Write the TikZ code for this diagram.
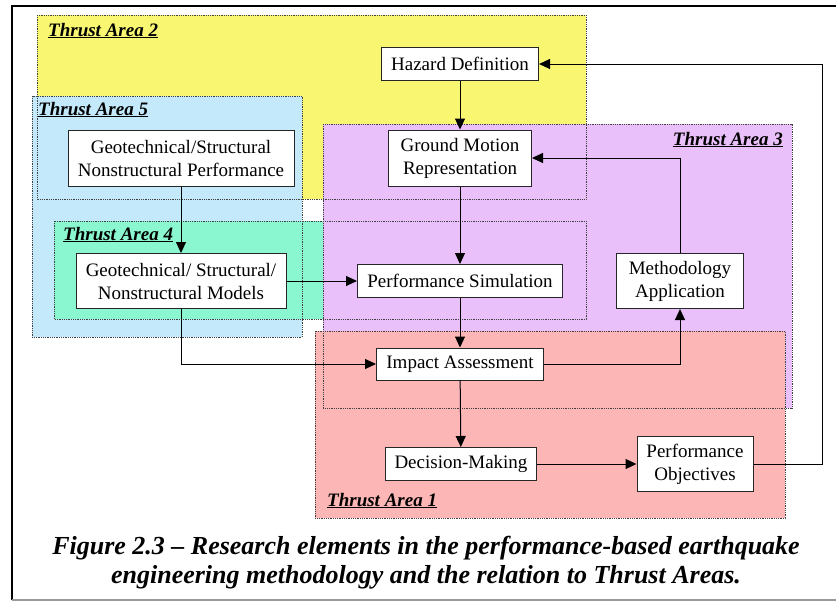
\documentclass[tikz,border=0pt]{standalone}
\usepackage{fontspec}
\setmainfont{Liberation Serif}
\usetikzlibrary{arrows.meta}

\definecolor{areaTwo}{RGB}{249,247,114}
\definecolor{areaFive}{RGB}{196,233,250}
\definecolor{areaFour}{RGB}{138,247,208}
\definecolor{areaThree}{RGB}{234,192,250}
\definecolor{areaOne}{RGB}{252,182,182}

\tikzset{
  elem/.style={draw=black!85,fill=white,line width=1pt,align=center,inner sep=0pt,
    font=\fontsize{19}{23}\selectfont},
  flow/.style={line width=1pt,-{Triangle[length=11pt,width=10pt]}},
  arealine/.style={draw=black!75,densely dotted,line width=0.8pt},
  arealabel/.style={font=\fontsize{19}{22}\selectfont\bfseries\itshape,inner sep=0pt}
}

\begin{document}
\begin{tikzpicture}[x=1pt,y=-1pt]
  \useasboundingbox (0,0) rectangle (836,605);

  % page frame
  \draw[line width=2pt] (12,600) -- (12,6) -- (838,6);
  \draw[black!40,line width=1.5pt] (12,600) -- (838,600);

  % thrust areas (fills first, outlines on top)
  \fill[areaTwo] (37,15) rectangle (586,199);
  \fill[areaFive] (32,96) rectangle (302,337);
  \fill[areaFour] (54,221) rectangle (586,319);
  \fill[areaThree] (323,124) rectangle (792,408);
  \fill[areaOne] (315,331) rectangle (785,518);
  \draw[arealine] (37,15) rectangle (586,199);
  \draw[arealine] (32,96) rectangle (302,337);
  \draw[arealine] (54,221) rectangle (586,319);
  \draw[arealine] (323,124) rectangle (792,408);
  \draw[arealine] (315,331) rectangle (785,518);

  \node[arealabel,anchor=base west] (ta2) at (48,36) {\underline{Thrust Area 2}};
  \node[arealabel,anchor=base west] (ta5) at (38,115) {\underline{Thrust Area 5}};
  \node[arealabel,anchor=base west] (ta4) at (63,240) {\underline{Thrust Area 4}};
  \node[arealabel,anchor=base east] (ta3) at (783,145) {\underline{Thrust Area 3}};
  \node[arealabel,anchor=base west] (ta1) at (327,506) {\underline{Thrust Area 1}};

  % research elements
  \node[elem,minimum width=157pt,minimum height=33pt] (haz) at (460,64) {Hazard Definition};
  \node[elem,minimum width=143pt,minimum height=56pt] (gm) at (460,158) {Ground Motion\\Representation};
  \node[elem,minimum width=226pt,minimum height=56pt] (perf) at (181,158) {Geotechnical/Structural\\Nonstructural Performance};
  \node[elem,minimum width=210pt,minimum height=55pt] (mod) at (181,281) {Geotechnical/ Structural/\\Nonstructural Models};
  \node[elem,minimum width=205pt,minimum height=33pt] (sim) at (460,281) {Performance Simulation};
  \node[elem,minimum width=127pt,minimum height=55pt] (meth) at (680,281) {Methodology\\Application};
  \node[elem,minimum width=167pt,minimum height=32pt] (imp) at (460,364) {Impact Assessment};
  \node[elem,minimum width=151pt,minimum height=33pt] (dec) at (461,464) {Decision-Making};
  \node[elem,minimum width=116pt,minimum height=55pt] (obj) at (695,464) {Performance\\Objectives};
  \coordinate (loop) at (822,464);

  % connectors
  \draw[flow] (haz) -- (gm);
  \draw[flow] (gm) -- (sim);
  \draw[flow] (sim) -- (imp);
  \draw[flow] (imp) -- (dec);
  \draw[flow] (perf) -- (mod);
  \draw[flow] (mod) -- (sim);
  \draw[flow] (mod.south) |- (imp.west);
  \draw[flow] (imp.east) -| (meth.south);
  \draw[flow] (meth.north) |- (gm.east);
  \draw[flow] (dec) -- (obj);
  \draw[flow] (obj.east) -- (loop) |- (haz.east);

  % caption
  \node[font=\fontsize{26}{29}\selectfont\bfseries\itshape,align=center] (cap) at (426,563)
    {Figure 2.3 -- Research elements in the performance-based earthquake\\
     engineering methodology and the relation to Thrust Areas.};
\end{tikzpicture}
\end{document}
